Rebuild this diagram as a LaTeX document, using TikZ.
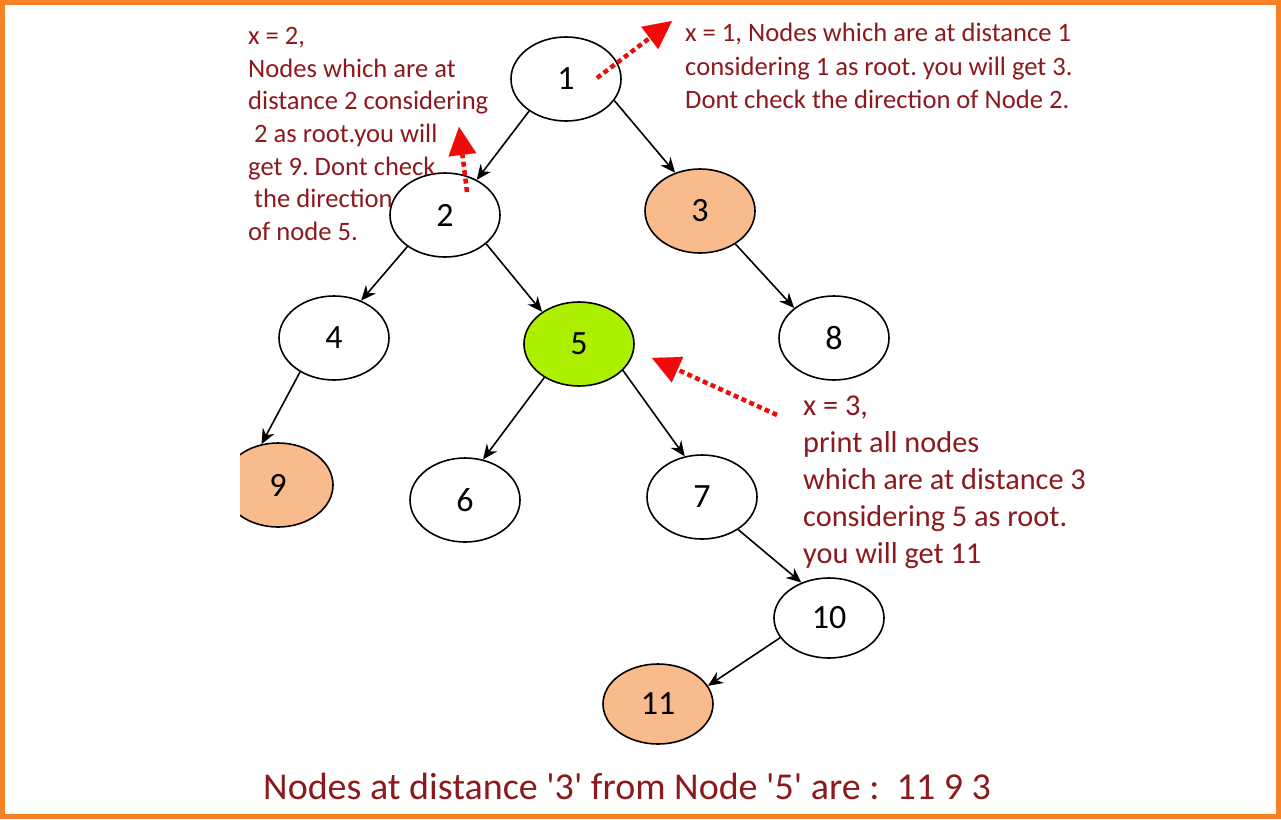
\documentclass[tikz,border=0pt]{standalone}
\usepackage{fontspec}
\setmainfont{Carlito}
\usetikzlibrary{shapes.geometric,arrows.meta}
\definecolor{framecol}{RGB}{245,128,37}
\definecolor{notecol}{RGB}{140,25,30}
\definecolor{peach}{RGB}{249,186,140}
\definecolor{lime}{RGB}{172,240,0}
\definecolor{hintred}{RGB}{240,10,10}
\frenchspacing
\begin{document}
\begin{tikzpicture}[x=1pt,y=-1pt,
  tnode/.style={ellipse, draw, line width=1.6pt, minimum width=110pt, minimum height=84pt, inner sep=0pt, font=\fontsize{34}{36}\selectfont},
  edge/.style={line width=1.6pt, -{Stealth[length=15pt,width=13pt]}},
  hint/.style={hintred, line width=4.5pt, dash pattern=on 5pt off 3.5pt, -{Triangle[length=28pt,width=28pt,line width=0.1pt]}},
  note/.style={notecol, align=left, inner sep=0pt, anchor=north west}]
\useasboundingbox (0,0) rectangle (1281,819);
\draw[framecol, line width=5pt] (2.5,2.5) rectangle (1278.5,816.5);
% tree
\node[tnode] (n1) at (566,79) {1};
\node[tnode] (n2) at (445,215) {2};
\node[tnode, fill=peach] (n3) at (700,211) {3};
\node[tnode] (n4) at (334,338) {4};
\node[tnode, fill=lime] (n5) at (579,344) {5};
\node[tnode] (n8) at (834,338) {8};
\begin{scope}
\clip (240,420) rectangle (400,560);
\node[tnode, fill=peach] (n9) at (278,485) {9};
\end{scope}
\node[tnode] (n6) at (465,500) {6};
\node[tnode] (n7) at (702,497) {7};
\node[tnode, minimum height=80pt] (n10) at (829,618) {10};
\node[tnode, fill=peach, minimum height=80pt] (n11) at (658,704) {11};
\draw[edge] (n1.221) -- (n2.48);
\draw[edge] (n1.336) -- (n3.123);
\draw[edge] (n2.220) -- (n4.54);
\draw[edge] (n2.325) -- (n5.139);
\draw[edge] (n3.317) -- (n8.143);
\draw[edge] (n4.225) -- (n9.112);
\draw[edge] (n5.224) -- (n6.66);
\draw[edge] (n5.329) -- (n7.113);
\draw[edge] (n7.318) -- (n10.128);
\draw[edge] (n10.202) -- (n11.20);
% notes
\node[note, font=\fontsize{26.6}{32.7}\selectfont] (leftnote) at (248,27)
  {x = 2,\\Nodes which are at\\distance 2 considering\\\ 2 as root.you will\\get 9. Dont check\\\ the direction\\of node 5.};
\node[note, font=\fontsize{26.6}{33.5}\selectfont] (topnote) at (685,23)
  {x = 1, Nodes which are at distance 1\\considering 1 as root. you will get 3.\\Dont check the direction of Node 2.};
\node[note, font=\fontsize{30.3}{37}\selectfont] (rightnote) at (803,396)
  {x = 3,\\print all nodes\\which are at distance 3\\considering 5 as root.\\you will get 11};
\node[notecol, anchor=base west, inner sep=0pt, font=\fontsize{38}{40}\selectfont] (result) at (263,799)
  {Nodes at distance \textquotesingle3\textquotesingle\ from Node \textquotesingle5\textquotesingle\ are :\ \ 11 9 3};
% hints
\coordinate (h1s) at (597,78);
\coordinate (h1e) at (672,21);
\coordinate (h2s) at (467,192);
\coordinate (h2e) at (459,127);
\coordinate (h3s) at (777,415);
\coordinate (h3e) at (652,358);
\draw[hint] (h1s) -- (h1e);
\draw[hint] (h2s) -- (h2e);
\draw[hint] (h3s) -- (h3e);
\end{tikzpicture}
\end{document}
